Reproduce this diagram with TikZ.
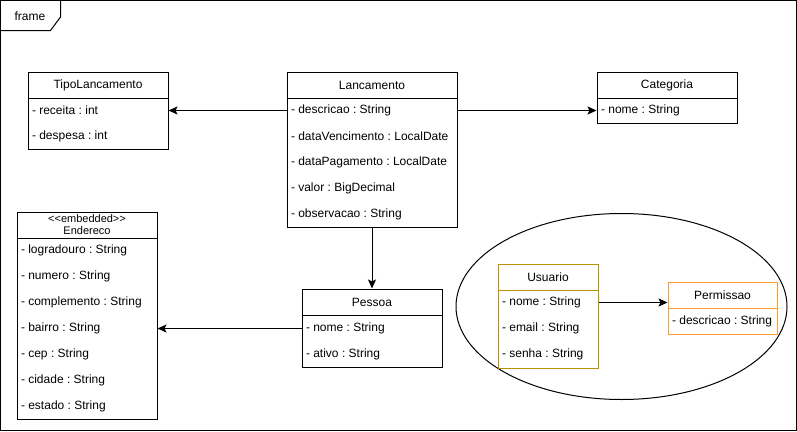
\documentclass[tikz,border=0pt]{standalone}
\usepackage{fontspec}
\setmainfont{Liberation Sans}
\usetikzlibrary{arrows.meta,shapes.geometric}
\definecolor{usu}{RGB}{191,144,0}
\definecolor{perm}{RGB}{255,153,51}
\frenchspacing
\begin{document}
\begin{tikzpicture}[x=1pt,y=-1pt, line width=1pt,
 every node/.style={font=\fontsize{12}{14}\selectfont},
 hdr/.style={draw, anchor=north west, inner xsep=0pt, inner ysep=0pt, minimum height=26pt, align=center},
 row/.style={anchor=west, inner xsep=4pt, inner ysep=0pt, minimum height=24pt, align=left, yshift=-1pt},
 box/.style={draw, anchor=north west, inner sep=0pt},
 conn/.style={-{Stealth[length=9pt,width=8pt,inset=2pt]}, line width=1pt}]
\useasboundingbox (0,0) rectangle (797,431);
% frame
\draw (0.5,0.5) rectangle (796.5,430.5);
\draw (0.5,30.5) -- (50.5,30.5) -- (60.5,17) -- (60.5,0.5);
\node (frm) at (30,16) {frame};
% TipoLancamento
\node[box, minimum width=140pt, minimum height=77pt] (tipo) at (27.5,71.5) {};
\node[hdr, minimum width=140pt] (tipo-h) at (27.5,71.5) {TipoLancamento};
\node[row] (tipo-1) at (27.5,109.5) {- receita : int};
\node[row] (tipo-2) at (27.5,135.5) {- despesa : int};
% Lancamento
\node[box, minimum width=170pt, minimum height=155pt] (lanc) at (286.5,71.5) {};
\node[hdr, minimum width=170pt] (lanc-h) at (286.5,71.5) {Lancamento};
\node[row] (lanc-1) at (286.5,109.5) {- descricao : String};
\node[row] (lanc-2) at (286.5,135.5) {- dataVencimento : LocalDate};
\node[row] (lanc-3) at (286.5,161.5) {- dataPagamento : LocalDate};
\node[row] (lanc-4) at (286.5,187.5) {- valor : BigDecimal};
\node[row] (lanc-5) at (286.5,213.5) {- observacao : String};
% Categoria
\node[box, minimum width=140pt, minimum height=51pt] (cat) at (596.5,71.5) {};
\node[hdr, minimum width=140pt] (cat-h) at (596.5,71.5) {Categoria};
\node[row] (cat-1) at (596.5,109.5) {- nome : String};
% Endereco
\node[box, minimum width=140pt, minimum height=207pt] (end) at (16.5,211.5) {};
\node[hdr, minimum width=140pt, font=\fontsize{11}{12}\selectfont] (end-h) at (16.5,211.5) {{<}{<}embedded{>}{>}\\Endereco};
\node[row] (end-1) at (16.5,249.5) {- logradouro : String};
\node[row] (end-2) at (16.5,275.5) {- numero : String};
\node[row] (end-3) at (16.5,301.5) {- complemento : String};
\node[row] (end-4) at (16.5,327.5) {- bairro : String};
\node[row] (end-5) at (16.5,353.5) {- cep : String};
\node[row] (end-6) at (16.5,379.5) {- cidade : String};
\node[row] (end-7) at (16.5,405.5) {- estado : String};
% Pessoa
\node[box, minimum width=140pt, minimum height=78pt] (pes) at (301.5,288.5) {};
\node[hdr, minimum width=140pt] (pes-h) at (301.5,288.5) {Pessoa};
\node[row] (pes-1) at (301.5,327.5) {- nome : String};
\node[row] (pes-2) at (301.5,353.5) {- ativo : String};
% group ellipse
\node[draw, ellipse, minimum width=331pt, minimum height=186pt, inner sep=0pt] (grp) at (621.5,306.5) {};
% Usuario
\node[box, draw=usu, color=usu, minimum width=100pt, minimum height=104pt] (usu) at (497.5,263.5) {};
\node[hdr, draw=usu, minimum width=100pt] (usu-h) at (497.5,263.5) {Usuario};
\node[row] (usu-1) at (497.5,301.5) {- nome : String};
\node[row] (usu-2) at (497.5,327.5) {- email : String};
\node[row] (usu-3) at (497.5,353.5) {- senha : String};
% Permissao
\node[box, draw=perm, color=perm, minimum width=109pt, minimum height=52pt] (perm) at (667.5,281.5) {};
\node[hdr, draw=perm, minimum width=109pt] (perm-h) at (667.5,281.5) {Permissao};
\node[row] (perm-1) at (667.5,320.5) {- descricao : String};
% connectors
\draw[conn] (lanc-1.west) -- (lanc-1.west -| tipo.east);
\draw[conn] (lanc-1.west -| lanc.east) -- (lanc-1.west -| cat.west);
\draw[conn] (lanc.south) -- (pes.north);
\draw[conn] (pes-1.west) -- (pes-1.west -| end.east);
\draw[conn] (usu-1.west -| usu.east) -- (usu-1.west -| perm.west);
\end{tikzpicture}
\end{document}
